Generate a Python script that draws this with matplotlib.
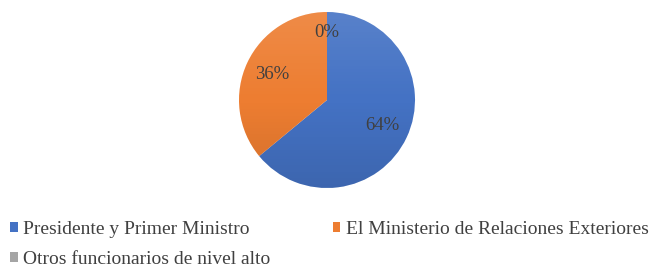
import matplotlib.pyplot as plt
from matplotlib.patches import Patch
import numpy as np

# datos
categorias = ["Presidente y Primer Ministro",
              "El Ministerio de Relaciones Exteriores",
              "Otros funcionarios de nivel alto"]
valores = [64, 36, 0]
colores = ["#4472C4", "#ED7D31", "#A5A5A5"]

plt.rcParams['font.family'] = ['Liberation Serif', 'DejaVu Serif']

fig = plt.figure(figsize=(6.5, 2.68), dpi=100)
ax = fig.add_axes([239 / 650, 1 - 188 / 268, 176 / 650, 176 / 268])

wedges, texts, autotexts = ax.pie(
    valores, colors=colores, startangle=90, counterclock=False,
    autopct=lambda p: "%d%%" % round(p), pctdistance=0.69,
    wedgeprops=dict(linewidth=0),
    textprops=dict(color="#404040", fontsize=13.5))
# la etiqueta del 0% va más cerca del borde
autotexts[2].set_position((0, 0.77))

# degradado suave (más claro arriba, más oscuro abajo)
grad = np.zeros((100, 1, 4))
t = np.linspace(0, 1, 100)
grad[:, 0, :3] = np.where(t[:, None] < 0.5, 1.0, 0.0)
grad[:, 0, 3] = np.abs(0.5 - t) * 0.22
for w in wedges:
    im = ax.imshow(grad, extent=(-1, 1, -1, 1), origin="upper",
                   aspect="auto", zorder=w.get_zorder() + 0.1)
    im.set_clip_path(w)
for txt in autotexts:
    txt.set_zorder(5)

ax.set_xlim(-1, 1)
ax.set_ylim(-1, 1)
ax.set_aspect("equal")
ax.axis("off")

# leyenda (orden por columnas)
orden = [0, 2, 1]
handles = [Patch(facecolor=colores[i], edgecolor="none") for i in orden]
labels = [categorias[i] for i in orden]
fig.legend(handles, labels, ncol=2, loc="upper left",
           bbox_to_anchor=(10 / 650, 1 - 221 / 268), frameon=False,
           borderpad=0, borderaxespad=0,
           fontsize=14, labelcolor="#404040",
           handlelength=0.4, handleheight=0.4, handletextpad=0.28,
           columnspacing=3.2, labelspacing=0.66)

plt.savefig("out.png", dpi=100)
